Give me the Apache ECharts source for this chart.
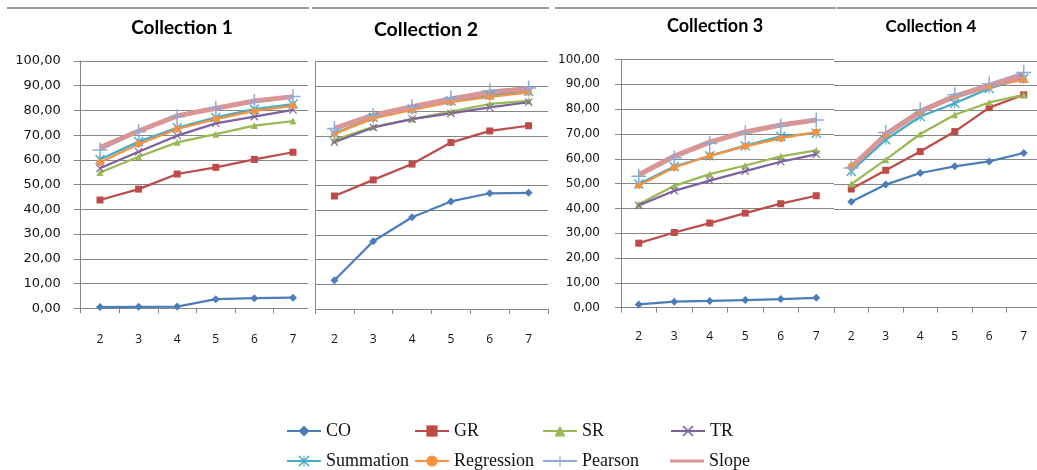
<!DOCTYPE html>
<html>
<head>
<meta charset="utf-8">
<title>Collections</title>
<script src="https://cdn.jsdelivr.net/npm/echarts@6.0.0/dist/echarts.min.js"></script>
<style>
  html, body { margin: 0; padding: 0; background: #fff; }
  #chart { width: 1037px; height: 470px; }
</style>
</head>
<body>
<div id="chart"></div>
<script>
// Category ticks (shared by all four panels)
const categories = ['2', '3', '4', '5', '6', '7'];
const collections = ['Collection 1', 'Collection 2', 'Collection 3', 'Collection 4'];
const methods = ['CO', 'GR', 'SR', 'TR', 'Summation', 'Regression', 'Pearson', 'Slope'];

// One row per collection
const CO = [
  [0.5, 0.6, 0.7, 3.7, 4.1, 4.3],
  [11.6, 27.4, 37.1, 43.5, 46.8, 47.0],
  [1.3, 2.4, 2.7, 3.1, 3.5, 4.0],
  [42.9, 49.9, 54.6, 57.3, 59.3, 62.7]
];
const GR = [
  [43.8, 48.2, 54.3, 57.0, 60.2, 63.1],
  [45.7, 52.2, 58.6, 67.3, 72.0, 74.1],
  [26.0, 30.3, 34.1, 38.1, 41.9, 45.1],
  [48.1, 55.7, 63.3, 71.4, 81.1, 86.3]
];
const SR = [
  [54.9, 61.3, 67.1, 70.4, 73.9, 75.7],
  [68.3, 73.7, 76.8, 79.8, 82.9, 84.2],
  [41.7, 49.1, 53.8, 57.3, 61.0, 63.4],
  [50.1, 60.0, 70.4, 78.2, 83.2, 86.3]
];
const TR = [
  [56.6, 63.3, 69.8, 74.8, 77.5, 80.2],
  [67.4, 73.4, 76.8, 79.1, 81.5, 83.6],
  [41.2, 47.1, 51.2, 55.0, 58.8, 61.8],
  [null, null, null, null, null, null]
];
const Summation = [
  [60.2, 67.4, 73.0, 77.2, 80.5, 82.6],
  [71.0, 77.5, 80.9, 84.2, 86.5, 88.0],
  [49.8, 56.9, 61.2, 65.3, 69.0, 70.3],
  [55.3, 68.1, 77.5, 82.9, 88.9, 93.0]
];
const Regression = [
  [59.0, 66.4, 72.5, 76.5, 79.8, 81.9],
  [70.8, 77.1, 80.5, 83.6, 85.8, 87.6],
  [49.3, 56.5, 61.2, 65.0, 68.2, 70.8],
  [57.3, 70.1, 79.2, 85.6, 89.9, 92.3]
];
const Pearson = [
  [64.0, 71.4, 77.5, 80.9, 83.6, 85.6],
  [73.0, 78.2, 81.8, 85.3, 88.3, 89.4],
  [53.0, 60.4, 66.2, 70.5, 73.2, 75.6],
  [56.6, 71.0, 80.2, 86.3, 90.7, 95.3]
];
const Slope = [
  [65.0, 71.7, 77.8, 80.9, 83.8, 85.6],
  [73.0, 78.4, 81.8, 84.9, 87.6, 89.2],
  [53.6, 61.1, 66.7, 70.8, 73.6, 75.6],
  [57.0, 70.1, 79.5, 85.6, 89.9, 94.3]
];
const values = { CO, GR, SR, TR, Summation, Regression, Pearson, Slope };

// Marker shapes
const CROSS = 'path://M0,1L1,0L10,9L9,10ZM9,0L10,1L1,10L0,9Z';
const PLUS = 'path://M4.5,0H5.5V10H4.5ZM0,4.5H10V5.5H0Z';
const STAR = 'path://M0,1L1,0L10,9L9,10ZM9,0L10,1L1,10L0,9ZM4.5,0H5.5V10H4.5Z';
// Plain bar for a line-only legend key (corner specks keep the box size)
const BAR = 'path://M0,0H0.01V0.01H0ZM0,5.5H34V8.5H0ZM33.99,13.99H34V14H33.99Z';

const styles = {
  CO:         { color: '#4A7EBB', symbol: 'diamond',  size: 8,  width: 2.25 },
  GR:         { color: '#BE4B48', symbol: 'rect',     size: 7,  width: 2.25 },
  SR:         { color: '#98B954', symbol: 'triangle', size: 7,  width: 2.25 },
  TR:         { color: '#7D60A0', symbol: CROSS,      size: 8,  width: 2.25 },
  Summation:  { color: '#46AAC5', symbol: STAR,       size: 10, width: 2.25 },
  Regression: { color: '#F69240', symbol: 'circle',   size: 7,  width: 2.25 },
  Pearson:    { color: '#8EAAD8', symbol: PLUS,       size: 15, width: 2.25 },
  Slope:      { color: '#DA9694', symbol: 'none',     size: 0,  width: 5 }
};

// Panel frames: plot box, tick label placement, title
const panels = [
  { left: 80.7, top: 61,   width: 231.6, height: 247.3, yLabels: true,  yLine: true,  yTick: 7, yMargin: 20, yFont: 13, xMargin: 25,
    title: { x: 182, y: 28, size: 19 } },
  { left: 315,  top: 61.7, width: 233,   height: 247.3, yLabels: false, yLine: true,  yTick: 0, yMargin: 20, yFont: 13, xMargin: 25,
    title: { x: 426, y: 30, size: 19.5 } },
  { left: 621,  top: 59.5, width: 213,   height: 248.2, yLabels: true,  yLine: true,  yTick: 6, yMargin: 21, yFont: 12, xMargin: 23,
    title: { x: 715, y: 26, size: 18 } },
  { left: 834,  top: 61,   width: 207,   height: 246.7, yLabels: false, yLine: false, yTick: 0, yMargin: 20, yFont: 12, xMargin: 23,
    title: { x: 931, y: 27, size: 17 } }
];

const AXIS_GRAY = '#868686';
const fmt = v => v.toFixed(2).replace('.', ',');

const grid = panels.map(p => ({
  left: p.left, top: p.top, width: p.width, height: p.height,
  containLabel: false, outerBoundsMode: 'none'
}));

const xAxis = panels.map((p, i) => ({
  type: 'category', gridIndex: i, data: categories, boundaryGap: true,
  axisLine: { show: true, lineStyle: { color: AXIS_GRAY, width: 1 } },
  axisTick: { show: true, length: 5, lineStyle: { color: AXIS_GRAY } },
  axisLabel: { margin: p.xMargin, fontFamily: 'Open Sans', fontSize: 12, color: '#111' },
  splitLine: { show: false }
}));

const yAxis = panels.map((p, i) => ({
  type: 'value', gridIndex: i, min: 0, max: 100, interval: 10,
  axisLine: { show: p.yLine, lineStyle: { color: AXIS_GRAY, width: 1 } },
  axisTick: { show: p.yTick > 0, length: p.yTick, lineStyle: { color: AXIS_GRAY } },
  axisLabel: { show: p.yLabels, margin: p.yMargin, formatter: fmt,
               fontFamily: 'DejaVu Sans', fontSize: p.yFont, color: '#111' },
  splitLine: { show: true, lineStyle: { color: AXIS_GRAY, width: 1 } }
}));

const series = [];
panels.forEach((p, i) => {
  methods.forEach(m => {
    const s = styles[m];
    series.push({
      type: 'line', name: m, xAxisIndex: i, yAxisIndex: i,
      data: values[m][i],
      symbol: s.symbol, symbolSize: s.size, showSymbol: s.symbol !== 'none',
      lineStyle: { color: s.color, width: s.width },
      itemStyle: { color: s.color },
      emphasis: { disabled: true },
      z: 2
    });
  });
});

// Legend laid out as a 4 x 2 table
const legendCols = [286, 414, 542, 670];
const legendRows = [422, 452];
const legend = methods.map((m, k) => ({
  data: [m === 'Slope' ? { name: m, icon: BAR } : m],
  left: legendCols[k % 4], top: legendRows[Math.floor(k / 4)],
  padding: 0, itemWidth: 34, itemHeight: 14,
  selectedMode: false,
  textStyle: { fontFamily: 'Liberation Serif', fontSize: 18, color: '#111' }
}));

const graphic = [];
// Chart-area top borders
[[7, 309], [312, 549], [555, 836], [837, 1037]].forEach(([a, b]) => {
  graphic.push({ type: 'line', shape: { x1: a, y1: 8, x2: b, y2: 8 },
                 style: { stroke: '#9a9a9a', lineWidth: 2 }, z: 10 });
});
// Gap where the second chart sits over the first
graphic.push({ type: 'rect', shape: { x: 308, y: 10, width: 6.5, height: 330 },
               style: { fill: '#fff' }, z: 10 });
// Panel titles
panels.forEach((p, i) => {
  graphic.push({ type: 'text', x: p.title.x, y: p.title.y, z: 10,
    style: { text: collections[i], align: 'center', verticalAlign: 'middle',
             font: 'bold ' + p.title.size + 'px Lato', fill: '#000' } });
});

const chart = echarts.init(document.getElementById('chart'), null, { renderer: 'canvas' });
chart.setOption({
  animation: false,
  backgroundColor: '#fff',
  grid, xAxis, yAxis, series, legend, graphic,
  tooltip: { show: false }
});
</script>
</body>
</html>
